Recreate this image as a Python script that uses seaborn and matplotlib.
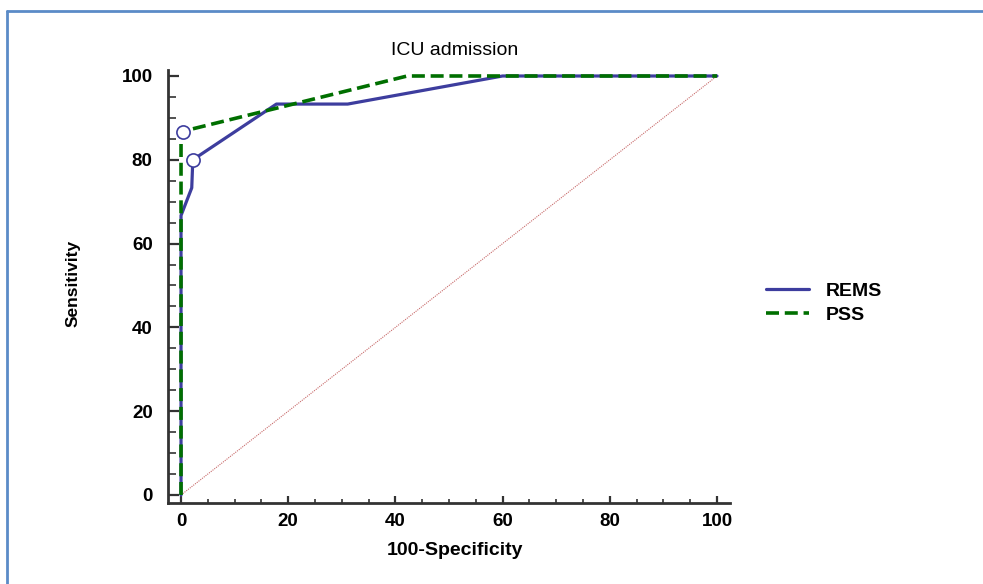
import numpy as np
import pandas as pd
import matplotlib
matplotlib.use("Agg")
import matplotlib.pyplot as plt
from matplotlib.lines import Line2D
import seaborn as sns

# ---- data ----
rems_fpr = [0, 0, 2.0, 2.2, 17.8, 31.1, 60.0, 100]
rems_tpr = [0, 66.7, 73.3, 80.0, 93.3, 93.3, 100, 100]
pss_fpr = [0, 0, 42.2, 100]
pss_tpr = [0, 86.7, 100, 100]
cut_fpr = [2.2, 0.3]
cut_tpr = [80.0, 86.7]
diag = [0, 100]
x_ticks = [0, 20, 40, 60, 80, 100]
y_ticks = [0, 20, 40, 60, 80, 100]

sns.set_style("white")
plt.rcParams['font.family'] = ['Liberation Sans', 'DejaVu Sans']
plt.rcParams['text.color'] = 'black'
plt.rcParams['axes.labelcolor'] = 'black'
plt.rcParams['xtick.color'] = 'black'
plt.rcParams['ytick.color'] = 'black'

BLUE = "#3d3d9e"
GREEN = "#006f00"
AX = "#333333"

fig = plt.figure(figsize=(9.83, 5.84), dpi=100)
ax = fig.add_axes([168/983, (584-503)/584, 562/983, 433/584])

df_r = pd.DataFrame({"x": rems_fpr, "y": rems_tpr})
df_p = pd.DataFrame({"x": pss_fpr, "y": pss_tpr})
df_d = pd.DataFrame({"x": diag, "y": diag})
df_c = pd.DataFrame({"x": cut_fpr, "y": cut_tpr})

sns.lineplot(data=df_d, x="x", y="y", ax=ax, sort=False, estimator=None,
             color="#c86a6a", lw=0.8, linestyle=(0, (1, 1)))
sns.lineplot(data=df_r, x="x", y="y", ax=ax, sort=False, estimator=None,
             color=BLUE, lw=2.3, label="REMS")
sns.lineplot(data=df_p, x="x", y="y", ax=ax, sort=False, estimator=None,
             color=GREEN, lw=2.6, label="PSS")
ax.lines[-1].set_dashes((3.6, 1.6))
sns.scatterplot(data=df_c, x="x", y="y", ax=ax, s=90, facecolor="white",
                edgecolor=BLUE, linewidth=1.2, zorder=5, legend=False)

ax.set_xlim(-2.43, 102.43)
ax.set_ylim(-1.91, 101.43)
ax.set_xticks(x_ticks)
ax.set_yticks(y_ticks)
ax.set_xticks(np.arange(0, 101, 5), minor=True)
ax.set_yticks(np.arange(0, 101, 5), minor=True)

for s in ["top", "right"]:
    ax.spines[s].set_visible(False)
for s in ["left", "bottom"]:
    ax.spines[s].set_color(AX)
    ax.spines[s].set_linewidth(2.0)

ax.tick_params(bottom=True, left=True, which="both")
ax.tick_params(axis="x", which="major", direction="in", length=5, width=1.6,
               color=AX, labelcolor="black", pad=7, labelsize=13.5)
ax.tick_params(axis="x", which="minor", direction="in", length=2.8, width=1.2, color=AX)
ax.tick_params(axis="y", which="major", direction="in", length=8, width=1.6,
               color=AX, labelcolor="black", pad=11, labelsize=13.5)
ax.tick_params(axis="y", which="minor", direction="in", length=5.5, width=1.2, color=AX)
for lab in ax.get_xticklabels() + ax.get_yticklabels():
    lab.set_fontweight("bold")

ax.set_title("ICU admission", fontsize=14, pad=11, x=0.51, color="black")
ax.set_xlabel("100-Specificity", fontsize=14, fontweight="bold", color="black")
ax.set_ylabel("Sensitivity", fontsize=12.5, fontweight="bold", color="black")
ax.xaxis.set_label_coords(0.511, -0.09)
ax.yaxis.set_label_coords(-0.155, 0.508)

leg = ax.legend(loc="center left", bbox_to_anchor=(766/983, (584-303)/584),
                bbox_transform=fig.transFigure, frameon=False, borderpad=0,
                borderaxespad=0, handlelength=2.2, handletextpad=0.85,
                labelspacing=0.3, prop={"weight": "bold", "size": 14})
for t in leg.get_texts():
    t.set_color("black")

# outer frame lines
fig.add_artist(Line2D([7/983, 1.0], [1-11/584, 1-11/584], transform=fig.transFigure,
                      color="#5b8bc7", lw=2.0))
fig.add_artist(Line2D([7/983, 7/983], [0, 1-11/584], transform=fig.transFigure,
                      color="#5b8bc7", lw=2.0))

fig.savefig("out.png", dpi=100)
